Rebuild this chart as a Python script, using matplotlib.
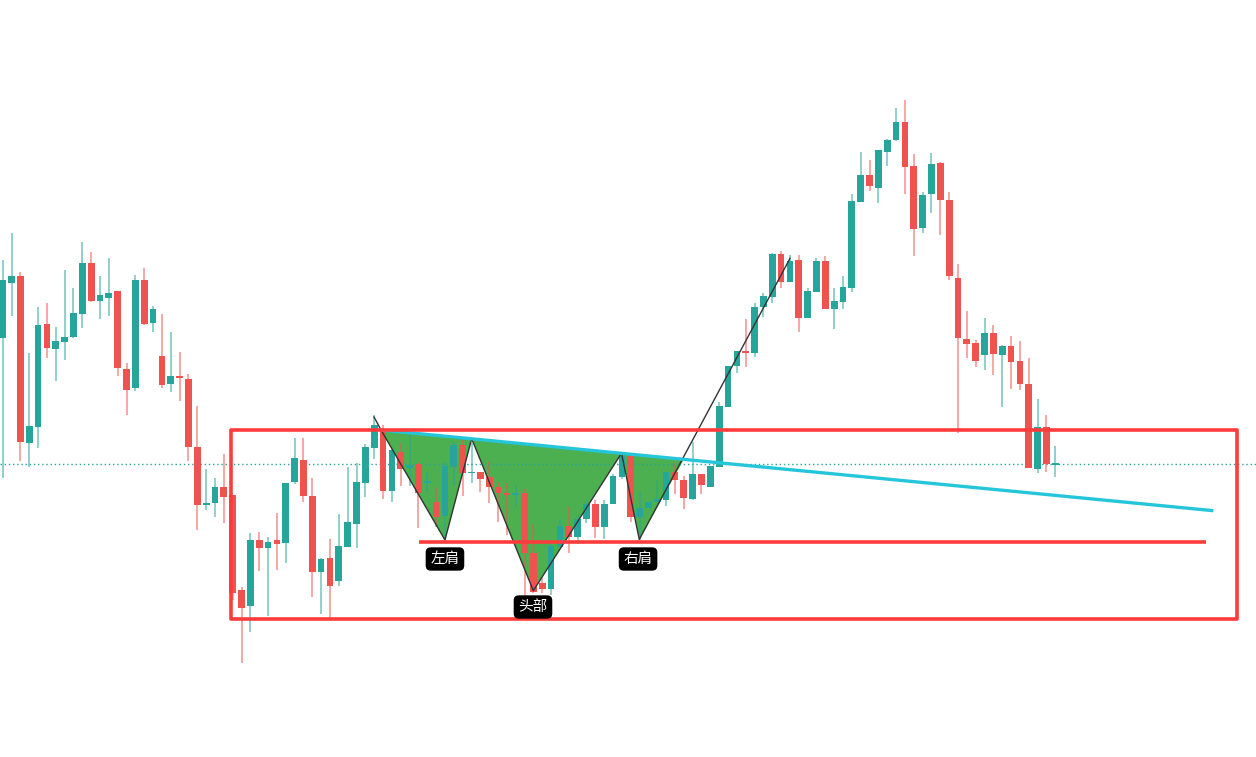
import matplotlib
matplotlib.use("Agg")
import matplotlib.pyplot as plt
from matplotlib.patches import Rectangle, Polygon

plt.rcParams["font.family"] = ["Noto Sans CJK SC", "DejaVu Sans"]

# candle data (open, high, low, close), one value per bar
opens = [461.7, 517, 524, 357.3, 373.3, 476, 450.7, 458.3, 462.7, 486.3,
         537, 499.3, 502.3, 509, 431, 412.3, 520, 477.3, 444, 416.3,
         424, 421, 353, 295.3, 297.3, 313, 305, 210, 194.3, 260,
         252.3, 260, 257.3, 318.3, 340, 304, 228.3, 242, 219.3, 253.3,
         276.3, 317.3, 352.3, 371, 308.7, 348.3, 331.7, 335.7, 317.3, 297.7,
         284.3, 332.7, 355, 326.7, 328.3, 322.7, 312.7, 306.7, 305, 306.7,
         246.7, 217, 211, 253.3, 274, 263.3, 280.7, 295.7, 273.3, 295.7,
         323.3, 344.3, 283.3, 291.7, 298.3, 300, 328.3, 320, 300.7, 326,
         312.7, 333.3, 393.3, 434.3, 448.7, 447.3, 493.3, 503.3, 546, 518.3,
         540, 482.3, 508.3, 539, 490.7, 498.3, 512.3, 598.3, 625, 612.3,
         648.3, 660, 678, 634, 572.3, 606.3, 637, 600, 522, 461,
         457, 445.3, 467, 445.3, 454, 439, 416, 331.3, 372.7, 335.3]
highs = [540, 567, 528.3, 447, 493, 497, 473, 530, 512, 558,
         548, 524, 542, 509, 437, 525, 532, 494, 486, 468,
         448, 426, 394, 331, 322, 346, 305, 213.3, 267, 268,
         263, 287, 317, 362, 362, 322, 241.7, 261, 286, 333,
         337, 356, 385, 375, 353.3, 357.3, 368.3, 338.3, 326.7, 312.7,
         338.3, 357.7, 360, 356.7, 328.3, 338.3, 318.3, 316.7, 315, 311,
         275.7, 221.7, 260, 280.7, 294.3, 285, 300, 300, 300, 326,
         346.7, 346.7, 307.7, 298.3, 320, 328.3, 336.7, 324, 358.3, 326,
         334.3, 398.3, 434, 449.3, 481, 497.3, 506.7, 546.7, 549, 545,
         545, 511.7, 541.7, 544, 511.7, 524, 606, 647.7, 640, 650,
         660.7, 692.3, 700, 646, 607.7, 647, 638.3, 607.7, 536, 489,
         460, 481.7, 475, 455, 464, 459.3, 442.3, 401, 385, 354.3]
lows = [322, 484.3, 339.3, 333, 352.3, 442.3, 419.3, 440.3, 462, 472.3,
        498.3, 481.3, 484, 424.3, 385.3, 409.3, 475, 468.3, 412.3, 408.3,
        399.3, 339.3, 270, 290, 282.7, 277.3, 200, 136.7, 168.3, 229.3,
        184.3, 230, 237.3, 316.3, 298.3, 203.3, 186.3, 182, 214.3, 253,
        252.3, 303.3, 341, 301.3, 297.7, 314, 314, 271.7, 308.3, 273.3,
        260, 314, 304.3, 316.7, 308.3, 296.7, 277.7, 265, 292.7, 203.3,
        207.3, 206.7, 205, 253.3, 246.7, 256, 276.7, 262.3, 260.7, 295.7,
        321, 278.3, 260, 291.7, 298.3, 294, 305.7, 290.7, 300, 306,
        312.7, 333.3, 393.3, 427.3, 433.3, 443.3, 482.7, 497.3, 511.7, 518.3,
        467.7, 481.7, 508.3, 490.7, 470.7, 490.7, 508.3, 598.3, 609.3, 597.3,
        634, 659.3, 606, 544.3, 567.3, 587.3, 565.3, 520.3, 367.3, 442.3,
        433.3, 430.3, 425.3, 393.3, 411.3, 410.3, 332.3, 327.3, 328.3, 323.3]
closes = [520, 524, 358.3, 374, 475, 452.3, 459, 463, 487, 537,
          499.3, 505, 507, 432.3, 410.3, 520, 476, 491, 415.3, 424.3,
          422.3, 353.3, 295.3, 296.7, 313, 303.3, 207.3, 192.3, 260, 252.3,
          258, 256.3, 317, 342, 304, 228.3, 241, 214.3, 254, 278,
          318, 353, 375, 308.7, 350, 330.7, 335, 306.7, 319, 282.7,
          334.3, 355, 326.7, 328.3, 321, 312.7, 306.7, 305, 306.7, 247.3,
          208.3, 211, 254.3, 274, 263.3, 281, 295.7, 273.3, 295.7, 324.3,
          344.3, 283.3, 292, 298.3, 300.7, 328.3, 320, 301.7, 326, 315,
          334.3, 394, 434, 449, 447.3, 493, 504, 546, 518.3, 539,
          482.3, 509, 539, 490.7, 499, 513, 599, 625, 614.3, 650,
          660, 678, 633.3, 571.3, 605, 636, 600.3, 524.3, 462.3, 456.3,
          439.3, 467, 446.3, 454, 438.3, 416.3, 332.3, 372.7, 336.3, 336]

# drawing anchors (bar index, price)
box_left, box_right = 25.78, 139.58
box_bottom, box_top = 180.7, 370
neckline_x = [47.12, 136.0]
neckline_y = 258
trend_x = [42.77, 136.87]
trend_y = [370, 289.3]
pattern_x = [42.77, 50.0, 53.02, 59.99, 69.96, 71.97, 77.03]
pattern_y = [370, 260, 361.3, 209.3, 346.8, 260.5, 340.8]
path_x = [41.98, 42.77, 50.0, 53.02, 59.99, 69.96, 71.97, 89.01]
path_y = [383, 370, 260, 361.3, 209.3, 346.8, 260.5, 541.7]
label_text = ["左肩", "头部", "右肩"]
label_x = [50.0, 59.95, 71.83]
label_y = [241, 193, 241]

UP = "#26a69a"
DOWN = "#ef5350"
RED = "#ff3b3b"


def draw_candles(ax, o, h, l, c, width=0.76):
    """
    Task: draws candlesticks (wick + body) from OHLC lists.
    """
    for i in range(len(o)):
        col = UP if c[i] >= o[i] else DOWN
        ax.vlines(i, l[i], h[i], color=col, alpha=0.55, lw=1.3, zorder=2)
        lo = min(o[i], c[i])
        hgt = max(abs(c[i] - o[i]), 1.5)
        ax.bar(i, hgt, bottom=lo, width=width, color=col, lw=0, zorder=3)


fig = plt.figure(figsize=(12.56, 7.57), dpi=100)
ax = fig.add_axes([0, 0, 1, 1])

# pattern fill under the candles
ax.add_patch(Polygon(list(zip(pattern_x, pattern_y)), closed=True,
                     facecolor="#4caf50", edgecolor="none", zorder=1))

draw_candles(ax, opens, highs, lows, closes)

# last price line
ax.axhline(closes[-1], color=UP, lw=1, ls=(0, (1, 2)), zorder=1)

ax.plot(path_x, path_y, color="#333333", lw=1.0, zorder=4)
ax.plot(trend_x, trend_y, color="#26c6da", lw=2.4, solid_capstyle="butt", zorder=5)
ax.plot(neckline_x, [neckline_y, neckline_y], color=RED, lw=2.6,
        solid_capstyle="butt", zorder=5)
ax.add_patch(Rectangle((box_left, box_bottom), box_right - box_left,
                       box_top - box_bottom, fill=False, edgecolor=RED,
                       lw=2.6, joinstyle="round", zorder=5))

for t, x, y in zip(label_text, label_x, label_y):
    ax.text(x, y, t, color="white", fontsize=10.5, ha="center", va="center",
            zorder=6,
            bbox=dict(boxstyle="round,pad=0.32,rounding_size=0.35",
                      facecolor="black", edgecolor="none"))

ax.set_xlim(-0.305, 141.69)
ax.set_ylim(43, 800)
ax.axis("off")

fig.savefig("out.png", dpi=100)
plt.close(fig)
